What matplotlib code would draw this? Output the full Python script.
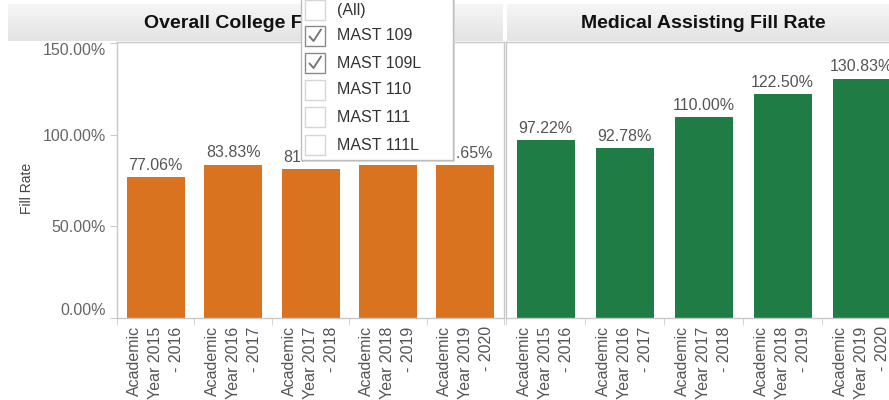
import matplotlib
matplotlib.use("Agg")
import matplotlib.pyplot as plt
import numpy as np
from matplotlib.patches import Rectangle

plt.rcParams['font.family'] = ['Liberation Sans', 'DejaVu Sans']

categories = ["Academic\nYear 2015\n- 2016", "Academic\nYear 2016\n- 2017",
              "Academic\nYear 2017\n- 2018", "Academic\nYear 2018\n- 2019",
              "Academic\nYear 2019\n- 2020"]
college_fill = [77.06, 83.83, 81.40, 83.60, 83.65]
medical_fill = [97.22, 92.78, 110.00, 122.50, 130.83]
y_ticks = [0, 50, 100, 150]
titles = ["Overall College Fill Rate", "Medical Assisting Fill Rate"]
filter_items = ["(All)", "MAST 109", "MAST 109L", "MAST 110", "MAST 111", "MAST 111L"]
filter_checked = [False, True, True, False, False, False]

ORANGE = "#d9731f"
GREEN = "#1f7c45"
W, H = 889, 400

fig = plt.figure(figsize=(W / 100, H / 100), dpi=100)

def px_axes(x0, y0, x1, y1, **kw):
    return fig.add_axes([x0 / W, 1 - y1 / H, (x1 - x0) / W, (y1 - y0) / H], **kw)

# header bands
hdr = px_axes(0, 0, W, 44, zorder=0)
hdr.axis('off')
grad = np.linspace(0, 1, 50).reshape(-1, 1)
cmap = matplotlib.colors.LinearSegmentedColormap.from_list("g", ["#f6f6f6", "#e3e3e3"])
headers = [(8, 503), (507, 899)]
for x0, x1 in headers:
    hdr.imshow(grad, extent=[x0, x1, 41, 4], cmap=cmap, aspect='auto', zorder=0)
hdr.set_xlim(0, W); hdr.set_ylim(44, 0)

ymax = 150.8
panels = [(117, 504, college_fill, ORANGE, titles[0], True, headers[0]),
          (506, 901, medical_fill, GREEN, titles[1], False, headers[1])]
for x0, x1, vals, col, title, show_y, (h0, h1) in panels:
    ax = px_axes(x0, 42, x1, 318, zorder=1)
    x = np.arange(len(vals))
    slot = (x1 - x0) / len(vals)
    ax.bar(x, vals, width=58 / slot, color=col, zorder=2)
    for xi, v in zip(x, vals):
        ax.annotate(f"{v:.2f}%", (xi, v), xytext=(0, 3), textcoords='offset points',
                    ha='center', va='bottom', fontsize=11.5, color='#555555', zorder=3)
    ax.set_xlim(-0.5, len(vals) - 0.5)
    ax.set_ylim(0, ymax)
    ax.set_xticks(x)
    ax.set_xticklabels(categories, rotation=90, ha='center', va='top',
                       multialignment='right', fontsize=11.5, color='#555555',
                       linespacing=1.5)
    ax.tick_params(axis='x', which='major', length=0, pad=6)
    ax.set_xticks(np.arange(-0.5, len(vals)), minor=True)
    ax.tick_params(axis='x', which='minor', length=5, color='#cccccc')
    for s in ['left', 'top', 'right', 'bottom']:
        ax.spines[s].set_color('#c8c8c8')
        ax.spines[s].set_linewidth(1)
    ax.set_yticks(y_ticks)
    if show_y:
        ax.set_yticklabels([f"{t:.2f}%" for t in y_ticks], fontsize=11.5, color='#666666')
        ax.tick_params(axis='y', length=5, color='#cccccc', pad=3)
        labs = ax.get_yticklabels()
        labs[0].set_va('bottom')
        labs[-1].set_va('top')
    else:
        ax.set_yticklabels([])
        ax.tick_params(axis='y', length=0)
    ax.set_facecolor('white')
    fig.text(((h0 + h1) / 2) / W, 1 - 23 / H, title, ha='center', va='center',
             fontsize=14, fontweight='bold', color='#111111')

fig.text(27 / W, 1 - 188 / H, "Fill Rate", rotation=90, ha='center', va='center',
         fontsize=10, color='#444444')

# filter dropdown overlay
ov = px_axes(0, 0, W, H, zorder=10)
ov.set_xlim(0, W); ov.set_ylim(H, 0); ov.axis('off'); ov.patch.set_alpha(0)
ov.add_patch(Rectangle((303, -2), 152, 164, facecolor='#dddddd', edgecolor='none', zorder=1))
ov.add_patch(Rectangle((301, -4), 152, 164, facecolor='white', edgecolor='#bdbdbd', lw=1, zorder=2))
item_y = [10, 36, 63, 90, 117, 145]
for yy, label, chk in zip(item_y, filter_items, filter_checked):
    ov.add_patch(Rectangle((305, yy - 10), 20, 20, facecolor='white',
                           edgecolor='#8a8a8a' if chk else '#d6d6d6', lw=1, zorder=3))
    if chk:
        ov.plot([309.5, 313.5, 321], [yy + 0.5, yy + 5, yy - 6.5], color='#777777', lw=1.4,
                zorder=4, solid_capstyle='round')
    ov.text(337, yy, label, ha='left', va='center', fontsize=11.5, color='#333333', zorder=4)

fig.savefig("out.png", dpi=100)
